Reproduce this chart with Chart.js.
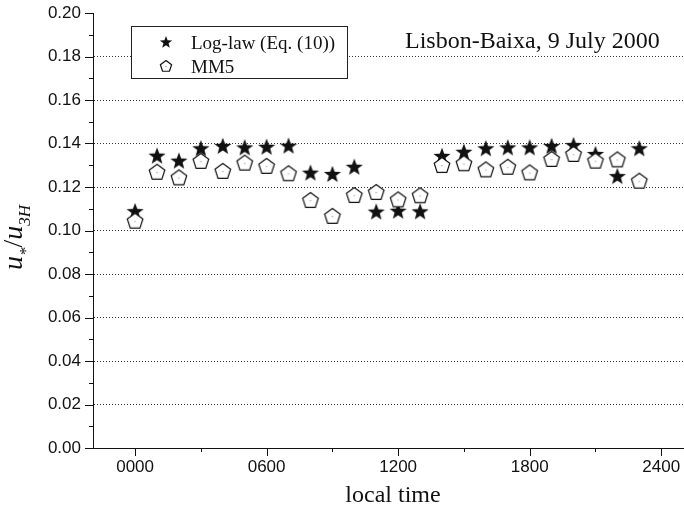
<!DOCTYPE html>
<html><head><meta charset="utf-8">
<script src="https://cdn.jsdelivr.net/npm/chart.js@4/dist/chart.umd.min.js"></script>
<style>html,body{margin:0;padding:0;background:#fff}#c{display:block}</style>
</head><body>
<canvas id="c" width="684" height="510"></canvas>
<script>
// ---- data ----
const hours = [0,100,200,300,400,500,600,700,800,900,1000,1100,1200,1300,1400,1500,1600,1700,1800,1900,2000,2100,2200,2300];
const logLaw = [0.1089,0.1344,0.1321,0.1378,0.1389,0.1382,0.1385,0.1390,0.1266,0.1260,0.1293,0.1087,0.1091,0.1088,0.1343,0.1362,0.1378,0.1382,0.1382,0.1389,0.1393,0.1352,0.1250,0.1378];
const mm5    = [0.1045,0.1270,0.1244,0.1320,0.1274,0.1312,0.1297,0.1263,0.1140,0.1067,0.1163,0.1177,0.1143,0.1162,0.1301,0.1309,0.1281,0.1293,0.1267,0.1329,0.1352,0.1321,0.1327,0.1229];
const xTickValues = [0,600,1200,1800,2400];
const xTickLabels = ['0000','0600','1200','1800','2400'];
const xMinorValues = [300,900,1500,2100];
const yTickValues = [0,0.02,0.04,0.06,0.08,0.10,0.12,0.14,0.16,0.18,0.20];
const seriesNames = ['Log-law (Eq. (10))','MM5'];
const chartTitle = 'Lisbon-Baixa, 9 July 2000';
const xTitle = 'local time';

// ---- marker images ----
function starPath(ctx, cx, cy, R, r){
  ctx.beginPath();
  for(let i=0;i<10;i++){
    const a = -Math.PI/2 + i*Math.PI/5;
    const rr = i%2===0 ? R : r;
    const px = cx + rr*Math.cos(a), py = cy + rr*Math.sin(a);
    i===0 ? ctx.moveTo(px,py) : ctx.lineTo(px,py);
  }
  ctx.closePath();
}
function pentPath(ctx, cx, cy, R){
  ctx.beginPath();
  for(let i=0;i<5;i++){
    const a = -Math.PI/2 + i*2*Math.PI/5;
    const px = cx + R*Math.cos(a), py = cy + R*Math.sin(a);
    i===0 ? ctx.moveTo(px,py) : ctx.lineTo(px,py);
  }
  ctx.closePath();
}
function drawStar(ctx, cx, cy, R){
  starPath(ctx, cx, cy, R, R*0.42);
  ctx.fillStyle = '#111'; ctx.fill();
}
function drawPent(ctx, cx, cy, R){
  pentPath(ctx, cx, cy, R);
  ctx.fillStyle = '#fff'; ctx.fill();
  ctx.lineWidth = 1.2; ctx.strokeStyle = '#111'; ctx.stroke();
  ctx.fillStyle = '#777'; ctx.fillRect(cx-0.5, cy-0.5, 1, 1);
}
function makeImg(fn, R){
  const s = 24;
  const c = document.createElement('canvas'); c.width = s; c.height = s;
  fn(c.getContext('2d'), s/2, s/2 + 0.7, R);
  return c;
}
const starImg = makeImg(drawStar, 9.0);
const pentImg = makeImg(drawPent, 8.2);

// ---- plugin for axes ticks, legend, titles ----
const decor = {
  id: 'decor',
  afterDraw(chart){
    const ctx = chart.ctx;
    const xs = chart.scales.x, ys = chart.scales.y;
    const L = chart.chartArea.left, B = chart.chartArea.bottom;
    ctx.save();
    ctx.strokeStyle = '#111'; ctx.lineWidth = 1;
    // y ticks
    for(let i=0;i<=20;i++){
      const v = i*0.01;
      const y = Math.round(ys.getPixelForValue(v)) + 0.5;
      const len = i%2===0 ? 8 : 4;
      ctx.beginPath(); ctx.moveTo(L - len, y); ctx.lineTo(L, y); ctx.stroke();
    }
    // x ticks
    xTickValues.forEach(v=>{
      const x = Math.round(xs.getPixelForValue(v)) + 0.5;
      ctx.beginPath(); ctx.moveTo(x, B); ctx.lineTo(x, B + 8); ctx.stroke();
    });
    xMinorValues.forEach(v=>{
      const x = Math.round(xs.getPixelForValue(v)) + 0.5;
      ctx.beginPath(); ctx.moveTo(x, B); ctx.lineTo(x, B + 4); ctx.stroke();
    });
    // legend
    ctx.fillStyle = '#fff';
    ctx.fillRect(131, 26, 217, 53);
    ctx.strokeStyle = '#222';
    ctx.strokeRect(131.5, 26.5, 216, 52);
    drawStar(ctx, 166, 42.5, 6.4);
    drawPent(ctx, 166, 66.5, 5.9);
    ctx.fillStyle = '#111';
    ctx.font = '19px "Liberation Serif"';
    ctx.textBaseline = 'alphabetic'; ctx.textAlign = 'left';
    ctx.fillText(seriesNames[0], 191, 48.5);
    ctx.fillText(seriesNames[1], 191, 72.5);
    // title
    ctx.font = '24px "Liberation Serif"';
    ctx.fillText(chartTitle, 405, 48);
    // x title
    ctx.textAlign = 'center';
    ctx.fillText(xTitle, 393, 502);
    // y title u*/u3H
    ctx.translate(22, 270);
    ctx.rotate(-Math.PI/2);
    ctx.textAlign = 'left';
    let x = 0;
    const big = 'italic 28px "Liberation Serif"', small = 'italic 17px "Liberation Serif"';
    const parts = [['u',big,0],['*',small,9],['/','28px "Liberation Serif"',0],['u',big,0],['3H',small,8]];
    parts.forEach(p=>{
      ctx.font = p[1];
      ctx.fillText(p[0], x, p[2]);
      x += ctx.measureText(p[0]).width;
    });
    ctx.restore();
  }
};

new Chart(document.getElementById('c'), {
  type: 'scatter',
  data: {
    datasets: [
      { label: seriesNames[1], data: hours.map((h,i)=>({x:h, y:mm5[i]})), pointStyle: pentImg, order: 0, showLine: false },
      { label: seriesNames[0], data: hours.map((h,i)=>({x:h, y:logLaw[i]})), pointStyle: starImg, order: 1, showLine: false }
    ]
  },
  options: {
    responsive: false,
    animation: false,
    devicePixelRatio: 1,
    layout: { autoPadding: false, padding: { left: 0, top: 13, right: 0, bottom: 0 } },
    plugins: { legend: { display: false }, tooltip: { enabled: false }, title: { display: false } },
    scales: {
      x: {
        type: 'linear', min: -192, max: 2504,
        afterBuildTicks: s => { s.ticks = xTickValues.map(v=>({value:v})); },
        afterFit: s => { s.height = 62; s.paddingLeft = 0; s.paddingRight = 0; },
        ticks: { callback: (v) => { const i = xTickValues.indexOf(v); return i>=0 ? xTickLabels[i] : ''; },
                 font: { family: '"Liberation Sans"', size: 17 }, color: '#111', padding: 9, maxRotation: 0, autoSkip: false },
        grid: { display: false, drawTicks: false },
        border: { display: true, color: '#111', width: 1 }
      },
      y: {
        min: 0, max: 0.2,
        afterBuildTicks: s => { s.ticks = yTickValues.map(v=>({value:v})); },
        afterFit: s => { s.width = 93; s.paddingTop = 0; s.paddingBottom = 0; },
        ticks: { callback: v => v.toFixed(2), font: { family: '"Liberation Sans"', size: 17 }, color: '#111', padding: 12 },
        grid: { drawTicks: false, lineWidth: 1,
                color: c => (c.tick && (c.tick.value < 0.001 || c.tick.value > 0.199)) ? 'rgba(0,0,0,0)' : '#333' },
        border: { display: true, color: '#111', width: 1, dash: [1,2] }
      }
    }
  },
  plugins: [decor]
});
</script>
</body></html>
